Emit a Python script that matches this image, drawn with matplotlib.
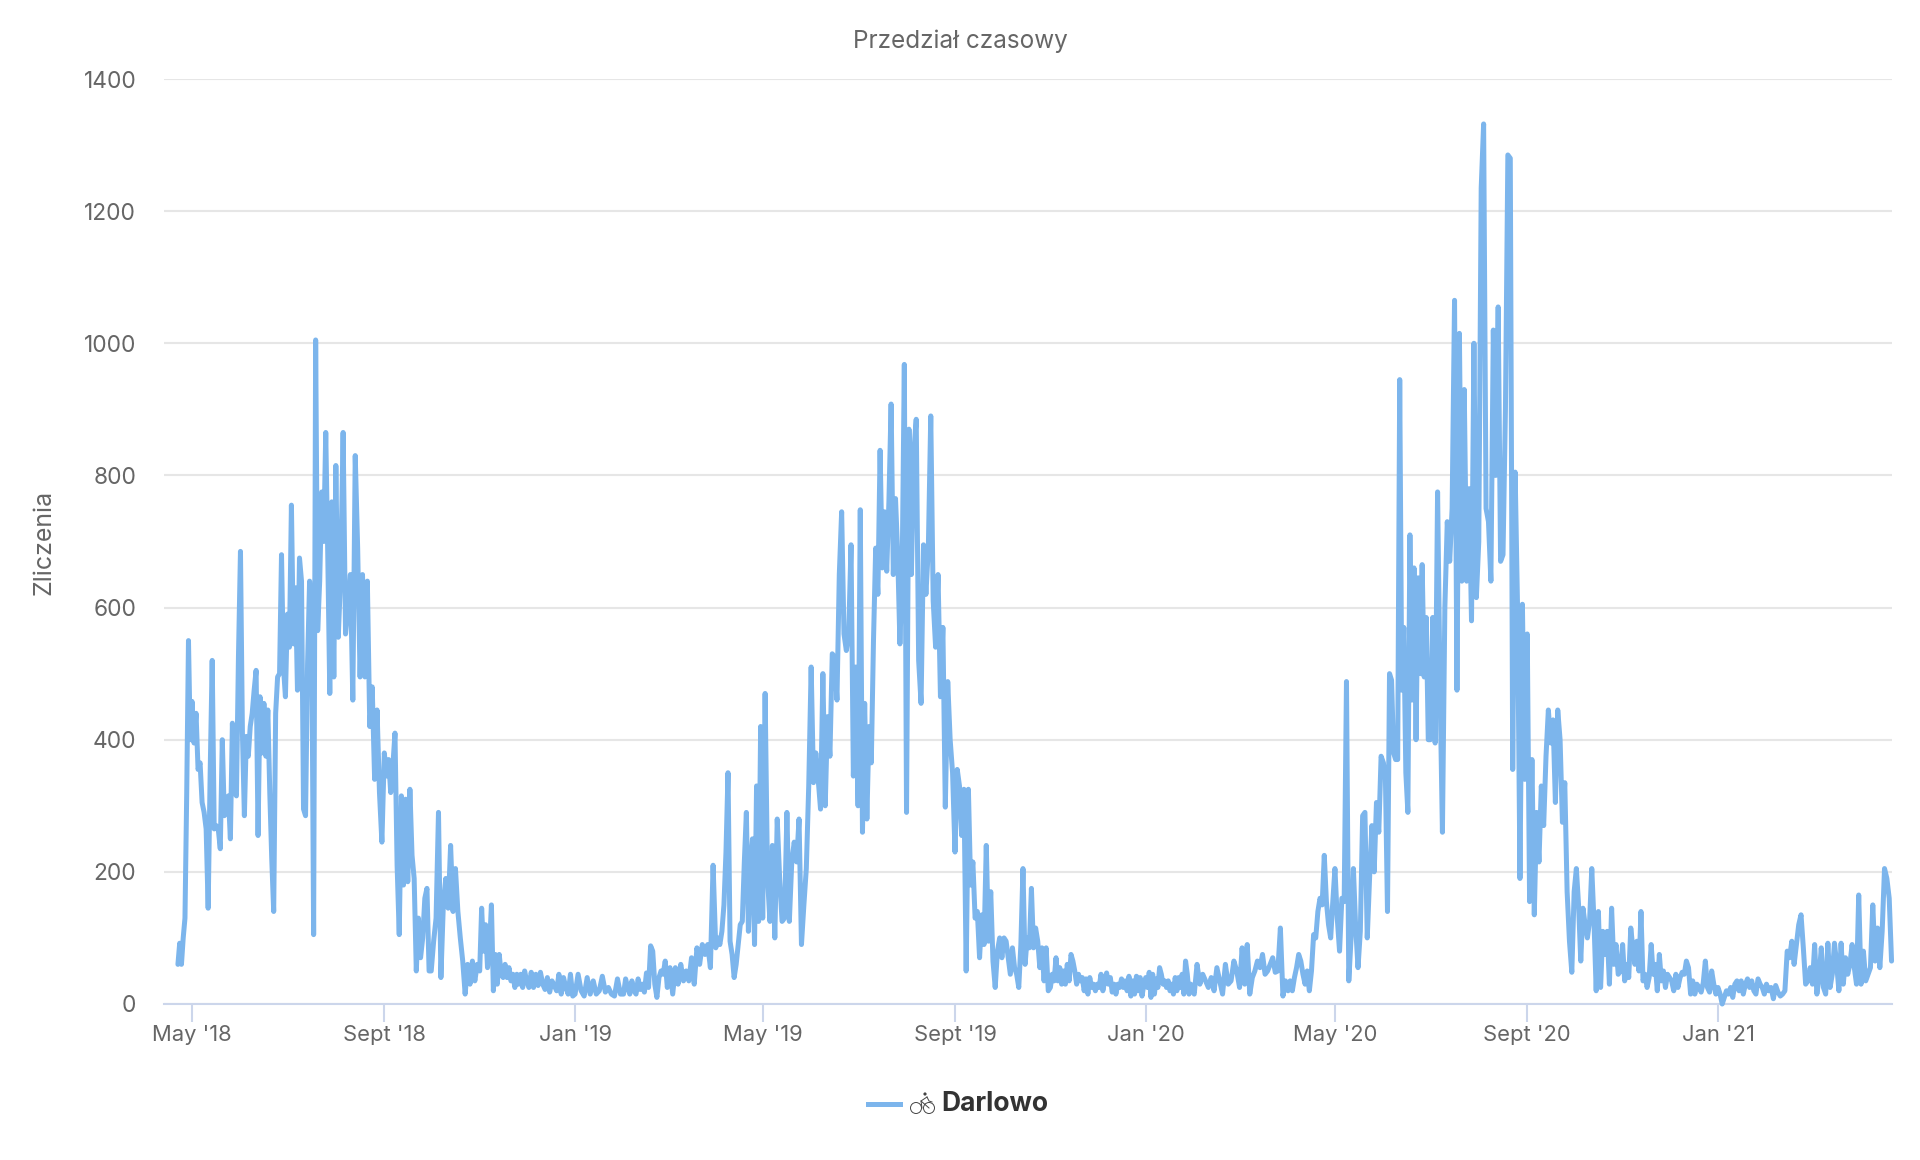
import numpy as np
import pandas as pd
import matplotlib
matplotlib.use("Agg")
import matplotlib.pyplot as plt
from matplotlib.lines import Line2D
from matplotlib.patches import Circle

plt.rcParams["font.family"] = ["Inter", "DejaVu Sans"]

# Counts, one list per calendar month
apr18 = [60, 92, 60, 100, 130, 320, 550, 400]
may18 = [458, 395, 440, 355, 365, 305, 290, 265, 145, 350, 520, 265, 270, 265, 235, 400, 285, 290, 315, 250, 425, 320, 315, 525]
jun18 = [685, 410, 285, 405, 375, 420, 440, 475, 505, 255, 465, 380, 455, 375, 445, 320, 220, 140, 440, 495, 500, 680, 510, 465]
jul18 = [590, 540, 755, 545, 630, 475, 675, 640, 295, 285, 515, 640, 600, 105, 1005, 565, 640, 775, 700, 865, 680, 470, 760, 495]
aug18 = [815, 555, 650, 865, 560, 600, 650, 460, 830, 690, 495, 650, 495, 640, 420, 480, 340, 445, 320, 245]
sep18 = [380, 345, 370, 320, 360, 410, 210, 105, 315, 180, 310, 185, 325, 225, 190, 50, 130, 70, 100, 160, 175, 50]
oct18 = [50, 95, 130, 290, 40, 150, 190, 145, 240, 140, 205, 140, 100, 65, 15, 60, 30, 65, 35, 60]
nov18 = [50, 145, 80, 120, 55, 85, 150, 20, 75, 30, 75, 45, 40, 60, 40, 55, 35, 45, 25, 45, 30, 45, 25, 50]
dec18 = [35, 25, 48, 25, 45, 28, 48, 30, 22, 40, 18, 35, 28, 20, 45, 15, 40, 25, 15, 45, 12]
jan19 = [15, 45, 20, 12, 40, 15, 35, 15, 20, 42, 18, 25, 15, 12, 38, 15]
feb19 = [15, 38, 25, 15, 35, 20, 15, 38, 22, 30, 18, 47, 25, 88, 80, 30, 10, 40, 50, 45, 65]
mar19 = [25, 55, 15, 55, 30, 60, 35, 50, 35, 70, 30, 85, 60, 90, 75, 90, 55, 210]
apr19 = [85, 100, 90, 110, 150, 230, 350, 95, 75, 40, 60, 90, 120, 125, 215, 290, 110, 210, 250, 90, 330, 125, 420]
may19 = [130, 470, 190, 125, 240, 100, 280, 190, 125, 130, 290, 125, 215, 245, 215, 280, 90, 150, 205, 330]
jun19 = [510, 335, 380, 340, 295, 500, 300, 435, 375, 530, 525, 460, 650, 745, 560, 535, 560, 695, 345, 510]
jul19 = [300, 748, 260, 455, 280, 420, 365, 550, 690, 620, 838, 660, 745, 655, 760, 908, 650, 765, 680, 545, 650, 968]
aug19 = [290, 870, 650, 835, 885, 520, 455, 695, 620, 690, 890, 610, 540, 650, 465, 570, 298, 488, 400, 350]
sep19 = [230, 355, 330, 255, 325, 50, 325, 180, 215, 130, 140, 70, 135, 90, 240, 95, 170, 65, 25, 80, 100]
oct19 = [70, 100, 95, 70, 45, 85, 55, 45, 25, 90, 205, 60, 100, 85, 175, 85, 115, 95, 55, 85, 35, 85, 20]
nov19 = [25, 45, 35, 70, 35, 55, 30, 50, 30, 60, 35, 75, 65, 50, 30, 45, 35, 40, 20, 38, 15, 40, 25, 30, 20]
dec19 = [30, 25, 45, 20, 35, 47, 30, 40, 18, 30, 15, 30, 25, 38, 25, 35, 20, 42, 12, 35, 15, 42, 20, 40, 12, 30]
jan20 = [40, 25, 48, 10, 45, 15, 38, 25, 55, 45, 30, 35, 25, 35, 20, 30, 15, 40, 20, 40, 25, 45, 15, 65, 45, 15, 30, 20]
feb20 = [15, 60, 30, 45, 35, 25, 40, 20, 55, 35, 15, 60, 30, 35, 65, 50]
mar20 = [25, 85, 30, 90, 15, 40, 50, 65, 55, 75, 45, 50, 60, 70, 48, 50, 115, 12, 35]
apr20 = [20, 35, 20, 40, 55, 75, 65, 45, 30, 50, 20, 50, 105, 100, 140, 160, 150, 225, 155, 120, 100, 155]
may20 = [205, 130, 80, 160, 155, 488, 35, 100, 205, 115, 55, 110, 285, 290, 100, 190, 270, 200, 305, 260, 375]
jun20 = [365, 340, 140, 500, 490, 380, 370, 370, 945, 475, 570, 350, 290, 710, 460, 660, 400, 645, 500, 665, 495, 585, 400]
jul20 = [400, 585, 395, 775, 480, 260, 600, 730, 670, 750, 1065, 475, 1015, 640, 930, 640, 780, 580, 1000, 615]
aug20 = [700, 1235, 1332, 750, 730, 640, 1020, 800, 1055, 670, 680, 900, 1285, 1280, 355, 805, 600, 190, 605, 340]
sep20 = [560, 155, 370, 135, 290, 215, 330, 270, 375, 445, 395, 430, 305, 445, 400, 275, 335, 170, 95, 48]
oct20 = [170, 205, 150, 65, 145, 120, 100, 125, 205, 125, 20, 140, 25, 110, 75, 110, 30, 145, 60, 90, 45, 50]
nov20 = [90, 35, 60, 40, 115, 85, 60, 95, 50, 140, 35, 45, 25, 40, 90, 45, 60, 20, 75, 35, 50, 25, 45]
dec20 = [40, 35, 20, 45, 25, 40, 48, 45, 65, 55, 15, 35, 15, 30, 25, 18, 32, 65, 25, 18, 50, 30, 15]
jan21 = [25, 15, 0, 10, 20, 15, 25, 10, 30, 35, 20, 35, 15, 30, 38, 25, 35, 20, 15, 38, 30, 25, 15]
feb21 = [30, 20, 25, 8, 28, 18, 12, 15, 20, 80, 70, 95, 60, 90, 120, 135, 85, 30, 35]
mar21 = [55, 30, 90, 15, 40, 85, 25, 15, 92, 25, 45, 92, 60, 20, 92, 30, 70, 45, 60, 90, 55, 30]
apr21 = [165, 30, 80, 35, 45, 55, 150, 65, 115, 55, 110, 205, 190, 160, 65]

month_counts = [
    apr18, may18, jun18, jul18, aug18, sep18, oct18, nov18, dec18,
    jan19, feb19, mar19, apr19, may19, jun19, jul19, aug19, sep19, oct19, nov19, dec19,
    jan20, feb20, mar20, apr20, may20, jun20, jul20, aug20, sep20, oct20, nov20, dec20,
    jan21, feb21, mar21, apr21,
]
month_starts = pd.date_range("2018-04-01", periods=len(month_counts), freq="MS")

first_day = pd.Timestamp("2018-04-22")
last_day = pd.Timestamp("2021-04-22")

tick_dates = ["2018-05-01", "2018-09-01", "2019-01-01", "2019-05-01", "2019-09-01",
              "2020-01-01", "2020-05-01", "2020-09-01", "2021-01-01"]
tick_labels = ["May '18", "Sept '18", "Jan '19", "May '19", "Sept '19",
               "Jan '20", "May '20", "Sept '20", "Jan '21"]
y_ticks = [0, 200, 400, 600, 800, 1000, 1200, 1400]


def to_days(d):
    return (pd.Timestamp(d) - pd.Timestamp("2018-01-01")).days


# Spread each month's readings evenly across that month
days = []
counts = []
for i, vals in enumerate(month_counts):
    start = to_days(month_starts[i])
    end = start + month_starts[i].days_in_month
    if i == 0:
        start = to_days(first_day)
    if i == len(month_counts) - 1:
        days.extend(np.linspace(start, to_days(last_day), len(vals)))
    else:
        days.extend(np.linspace(start, end, len(vals), endpoint=False))
    counts.extend(vals)

W, H = 1920, 1160
fig = plt.figure(figsize=(W / 100, H / 100), dpi=100, facecolor="white")
ax = fig.add_axes([164 / W, 1 - 1004 / H, (1892 - 164) / W, (1004 - 79) / H])

line_color = "#7cb5ec"
axis_color = "#ccd6eb"
text_color = "#666666"

ax.plot(days, counts, color=line_color, lw=3.6, solid_joinstyle="round",
        solid_capstyle="round", clip_on=False, zorder=3)

ax.set_xlim(to_days("2018-05-01") - 28 / 1.5635, to_days("2021-01-01") + 174 / 1.5635)
ax.set_ylim(0, 1400)
ax.set_yticks(y_ticks)
ax.set_xticks([to_days(d) for d in tick_dates])
ax.set_xticklabels(tick_labels)
ax.grid(axis="y", color="#e6e6e6", lw=1.5)
ax.set_axisbelow(True)
for side in ["top", "left", "right"]:
    ax.spines[side].set_visible(False)
ax.spines["bottom"].set_color(axis_color)
ax.spines["bottom"].set_linewidth(1.5)
ax.tick_params(axis="x", length=13, width=1.5, color=axis_color, labelcolor=text_color,
               labelsize=15.8, pad=2)
ax.tick_params(axis="y", length=0, labelcolor=text_color, labelsize=16.4, pad=20)

fig.text(960 / W, 1 - 41 / H, "Przedział czasowy", ha="center", va="center",
         color=text_color, fontsize=17.5)
fig.text(44 / W, 1 - 542 / H, "Zliczenia", ha="center", va="center", rotation=90,
         color=text_color, fontsize=18)

# Legend: line, small cyclist drawn from shapes, bold name
fig.add_artist(Line2D([868 / W, 900 / W], [1 - 1104 / H] * 2, color=line_color, lw=3.6))
icon_color = "#444444"
for cx, cy in [(916, 1108), (929, 1108)]:
    fig.add_artist(Circle((cx, H - cy), 5.5, transform=None, fc="none", ec=icon_color, lw=0.7))
icon_lines = [
    [(922, 1108), (921, 1101), (927, 1097)],
    [(921, 1101), (929, 1108)],
    [(927, 1097), (929, 1101), (932, 1102)],
]
for pts in icon_lines:
    fig.add_artist(Line2D([p[0] for p in pts], [H - p[1] for p in pts], transform=None,
                          color=icon_color, lw=0.7))
fig.add_artist(Circle((925, H - 1094), 1.6, transform=None, fc=icon_color, ec="none"))
fig.text(941 / W, 1 - 1104 / H, "Darlowo", ha="left", va="center", color="#333333",
         fontsize=19, fontweight="bold")

fig.savefig("out.png", dpi=100, facecolor="white")
